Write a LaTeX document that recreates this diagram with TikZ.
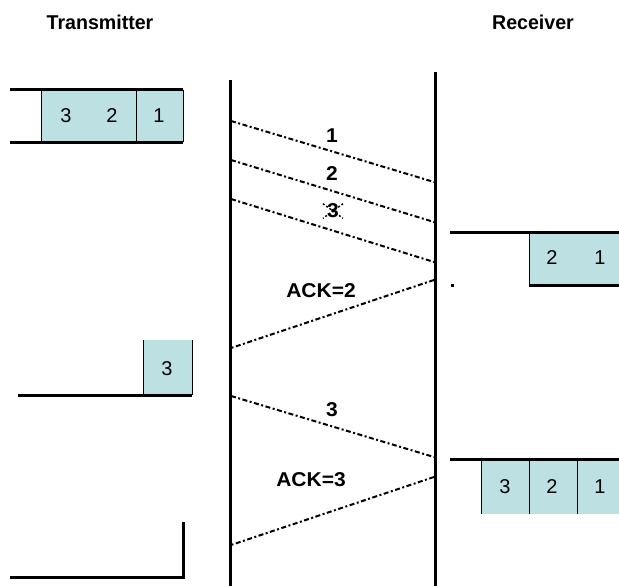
\documentclass[tikz,border=0pt]{standalone}
\usepackage{fontspec}
\setmainfont{Liberation Sans}
\begin{document}
\begin{tikzpicture}[x=1pt,y=-1pt,
  thick line/.style={line width=3pt},
  thin line/.style={line width=1pt},
  buf/.style={fill=bufcol},
  msg/.style={line width=2pt, dash pattern=on 5pt off 2.5pt on 2pt off 2.5pt},
  lbl/.style={font=\fontsize{20}{24}\selectfont, inner sep=0pt},
  acklbl/.style={font=\fontsize{20}{24}\selectfont\bfseries, inner sep=0pt, xscale=1.05},
  ttl/.style={font=\fontsize{20}{24}\selectfont\bfseries, inner sep=0pt, xscale=0.98}]
\definecolor{bufcol}{RGB}{189,224,227}
\useasboundingbox (0,0) rectangle (619,586);
\fill[white] (0,0) rectangle (619,586);

% titles
\node[ttl] (tx) at (100,22) {Transmitter};
\node[ttl] (rx) at (533,22) {Receiver};

% time lines
\coordinate (t0) at (230,80);
\coordinate (t1) at (230,586);
\coordinate (r0) at (435,72);
\coordinate (r1) at (435,586);
\draw[thick line] (t0) -- (t1);
\draw[thick line] (r0) -- (r1);

% transmitter buffer 1
\fill[buf] (41,90) rectangle (183,142);
\draw[thin line] (41,90) -- (41,142) (136,90) -- (136,142) (183,90) -- (183,142);
\draw[thick line] (10,90) -- (183,90) (10,142) -- (183,142);
\node[lbl] (b3) at (66,116) {3};
\node[lbl] (b2) at (112,116) {2};
\node[lbl] (b1) at (159,116) {1};

% packets 1,2,3
\coordinate (s1) at (231,121); \coordinate (e1) at (434,182);
\coordinate (s2) at (231,160); \coordinate (e2) at (434,222);
\coordinate (s3) at (231,199); \coordinate (e3) at (434,262);
\draw[msg] (s1) -- (e1);
\draw[msg] (s2) -- (e2);
\draw[msg] (s3) -- (e3);
\node[acklbl] (p1) at (332,136) {1};
\node[acklbl] (p2) at (332,174) {2};
\node[acklbl] (p3) at (333,211) {3};
\draw[line width=1.5pt, dash pattern=on 2pt off 2pt] ([xshift=-4pt]p3.north west) coordinate (xa) -- ([xshift=4pt]p3.south east) coordinate (xb);
\draw[line width=1.5pt, dash pattern=on 2pt off 2pt] ([xshift=4pt]p3.north east) coordinate (xc) -- ([xshift=-4pt]p3.south west) coordinate (xd);

% receiver buffer 1
\fill[buf] (529,232) rectangle (619,285);
\draw[thin line] (529,232) -- (529,285);
\draw[thick line] (450,232) -- (619,232) (529,285) -- (619,285);
\node[lbl] (rb2) at (552,258) {2};
\node[lbl] (rb1) at (600,258) {1};
\fill (451,284) rectangle (454,287);

% ACK=2
\coordinate (a2s) at (434,280); \coordinate (a2e) at (231,348);
\draw[msg] (a2s) -- (a2e);
\node[acklbl] (ack2) at (321,291) {ACK=2};

% transmitter buffer 2
\fill[buf] (143,340) rectangle (192,395);
\draw[thin line] (143,340) -- (143,395) (192,340) -- (192,395);
\draw[thick line] (18,395) -- (192,395);
\node[lbl] (tb3) at (167,369) {3};

% packet 3 retransmitted
\coordinate (s4) at (231,396); \coordinate (e4) at (434,457);
\draw[msg] (s4) -- (e4);
\node[acklbl] (p4) at (332,410) {3};

% receiver buffer 2
\fill[buf] (481,459) rectangle (619,514);
\draw[thin line] (481,459) -- (481,514) (529,459) -- (529,514) (577,459) -- (577,514);
\draw[thick line] (450,459) -- (619,459);
\node[lbl] (rc3) at (505,487) {3};
\node[lbl] (rc2) at (552,487) {2};
\node[lbl] (rc1) at (600,487) {1};

% ACK=3
\coordinate (a3s) at (434,477); \coordinate (a3e) at (231,545);
\draw[msg] (a3s) -- (a3e);
\node[acklbl] (ack3) at (311,480) {ACK=3};

% transmitter buffer 3 (empty)
\draw[thick line] (183,522) -- (183,577) -- (10,577);
\end{tikzpicture}
\end{document}
